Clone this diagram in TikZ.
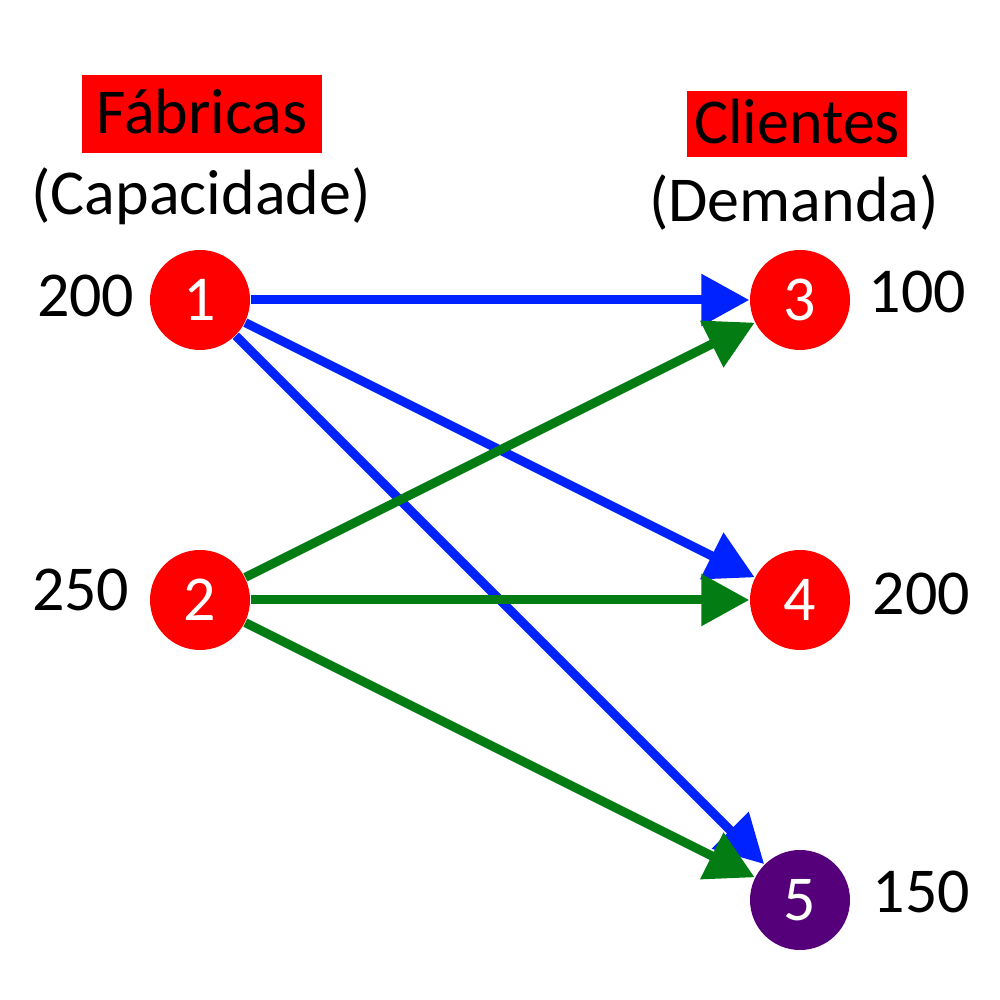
\documentclass[tikz,border=0pt]{standalone}
\usepackage{fontspec}
\setmainfont{Carlito}
\usetikzlibrary{arrows.meta}
\definecolor{flowblue}{RGB}{0,34,255}
\definecolor{flowgreen}{RGB}{4,124,20}
\definecolor{sinkpurple}{RGB}{85,0,122}
\begin{document}
\begin{tikzpicture}[
    every node/.style={font=\fontsize{18.2}{22}\selectfont, inner sep=0pt},
    site/.style={circle, fill=red, text=white, minimum size=1cm},
    head/.style={fill=red, text depth=#1, anchor=base},
    ship/.style={line width=0.9mm, -{Triangle[length=4.8mm,width=5mm]}},
  ]
  \useasboundingbox (0,0) rectangle (10,10);

  \node[head=0.19cm, text height=0.59cm, minimum width=2.4cm] (fab) at (2.02,8.66) {Fábricas};
  \node[head=0.13cm, text height=0.53cm, minimum width=2.2cm] (cli) at (7.97,8.56) {Clientes};
  \node[anchor=base] (cap) at (2.01,7.85) {(Capacidade)};
  \node[anchor=base] (dem) at (7.94,7.78) {(Demanda)};

  \node[site] (n1) at (2,7) {1};
  \node[site] (n2) at (2,4) {2};
  \node[site] (n3) at (8,7) {3};
  \node[site] (n4) at (8,4) {4};
  \node[site, fill=sinkpurple] (n5) at (8,1) {5};

  \node[anchor=base east] (s1) at (1.35,6.83) {200};
  \node[anchor=base east] (s2) at (1.30,3.89) {250};
  \node[anchor=base west] (d3) at (8.68,6.87) {100};
  \node[anchor=base west] (d4) at (8.72,3.85) {200};
  \node[anchor=base west] (d5) at (8.72,0.87) {150};

  \draw[ship, flowblue] (n1) -- (n3);
  \draw[ship, flowblue] (n1) -- (n4);
  \draw[ship, flowblue] (n1) -- (n5);
  \draw[ship, flowgreen] (n2) -- (n3);
  \draw[ship, flowgreen] (n2) -- (n4);
  \draw[ship, flowgreen] (n2) -- (n5);

\end{tikzpicture}
\end{document}
